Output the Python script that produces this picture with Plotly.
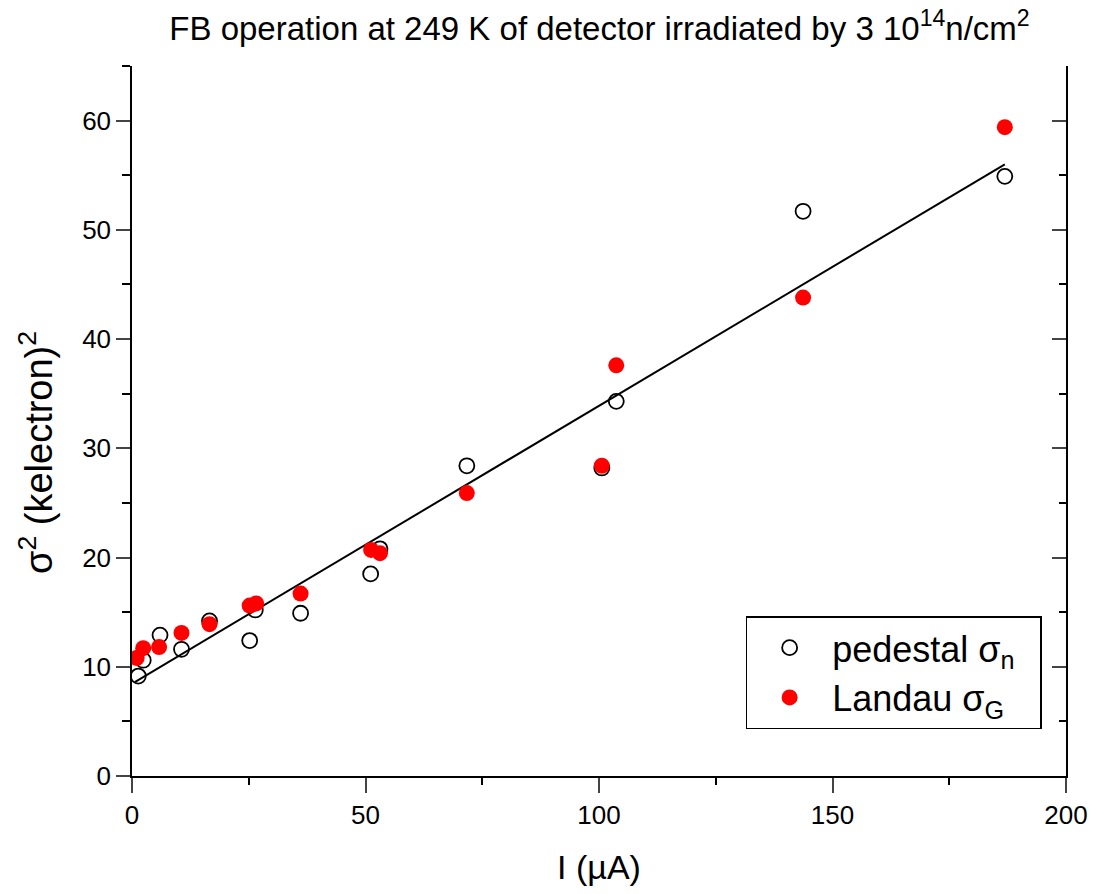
import plotly.graph_objects as go

# Data
ped_x = [1.35, 2.4, 6.0, 10.6, 16.6, 25.2, 26.4, 36.1, 51.1, 53.1, 71.7, 100.6, 103.7, 143.7, 186.9]
ped_y = [9.15, 10.6, 12.9, 11.6, 14.2, 12.4, 15.2, 14.9, 18.5, 20.8, 28.4, 28.2, 34.3, 51.7, 54.9]

lan_x = [1.0, 2.4, 5.8, 10.6, 16.6, 25.2, 26.6, 36.1, 51.2, 53.1, 71.7, 100.6, 103.7, 143.7, 186.9]
lan_y = [10.8, 11.7, 11.8, 13.1, 13.9, 15.6, 15.8, 16.7, 20.7, 20.4, 25.9, 28.4, 37.6, 43.8, 59.4]

fit_x = [0.6, 186.9]
fit_y = [8.6, 56.0]

x_ticks = [0, 50, 100, 150, 200]
y_ticks = [0, 10, 20, 30, 40, 50, 60]

FONT = "Liberation Sans, Arial, sans-serif"
PAD = "\u00a0\u00a0"

fig = go.Figure()
fig.add_trace(go.Scatter(x=fit_x, y=fit_y, mode="lines",
                         line=dict(color="black", width=2), showlegend=False,
                         hoverinfo="skip"))
fig.add_trace(go.Scatter(x=ped_x, y=ped_y, mode="markers",
                         name="pedestal σ<sub>n</sub>" + PAD,
                         marker=dict(symbol="circle-open", size=15, color="black",
                                     line=dict(width=1.8, color="black"))))
fig.add_trace(go.Scatter(x=lan_x, y=lan_y, mode="markers",
                         name="Landau σ<sub>G</sub>" + PAD,
                         marker=dict(symbol="circle", size=16, color="#ff0000",
                                     line=dict(width=0))))
fig.add_trace(go.Scatter(x=[None], y=[None], yaxis="y2", showlegend=False,
                         hoverinfo="skip"))

fig.update_layout(
    width=1100, height=894,
    margin=dict(l=132, r=30, t=66, b=118),
    paper_bgcolor="white", plot_bgcolor="white",
    font=dict(family=FONT, color="black"),
    title=dict(text="FB operation at 249 K of detector irradiated by 3 10<sup>14</sup>n/cm<sup>2</sup>",
               x=0.545, xanchor="center", y=0.968, yanchor="middle",
               font=dict(family=FONT, size=33)),
    xaxis=dict(range=[0, 200], tickvals=x_ticks, ticks="outside", ticklen=15,
               tickwidth=1.5, showline=True, linewidth=1.5, linecolor="black",
               showgrid=False, zeroline=False,
               minor=dict(dtick=25, ticks="outside", ticklen=7, tickwidth=1.5,
                          tickcolor="black", showgrid=False),
               tickfont=dict(size=26), title=dict(text="I (µA)", font=dict(size=34),
                                                   standoff=26)),
    yaxis=dict(range=[0, 65], tickvals=y_ticks, ticks="outside", ticklen=14,
               tickwidth=1.5, showline=True, linewidth=1.5, linecolor="black",
               showgrid=False, zeroline=False,
               minor=dict(dtick=5, ticks="outside", ticklen=8, tickwidth=1.5,
                          tickcolor="black", showgrid=False),
               tickfont=dict(size=26)),
    yaxis2=dict(range=[0, 65], overlaying="y", side="right", tickvals=y_ticks,
                ticks="inside", ticklen=14, tickwidth=1.5, showline=True,
                linewidth=1.5, linecolor="black", showticklabels=False,
                showgrid=False, zeroline=False,
                minor=dict(dtick=5, ticks="inside", ticklen=7, tickwidth=1.5,
                           tickcolor="black", showgrid=False)),
    legend=dict(x=0.657, y=0.225, xanchor="left", yanchor="top",
                bordercolor="black", borderwidth=1.5, bgcolor="white",
                itemwidth=75, font=dict(size=36, family=FONT)),
    annotations=[dict(text="σ<sup>2</sup> (kelectron)<sup>2</sup>",
                      xref="paper", yref="paper", x=-0.103, y=0.456,
                      xanchor="center", yanchor="middle", textangle=-90,
                      showarrow=False, font=dict(size=38, family=FONT))],
)

fig.write_html("out.html")
